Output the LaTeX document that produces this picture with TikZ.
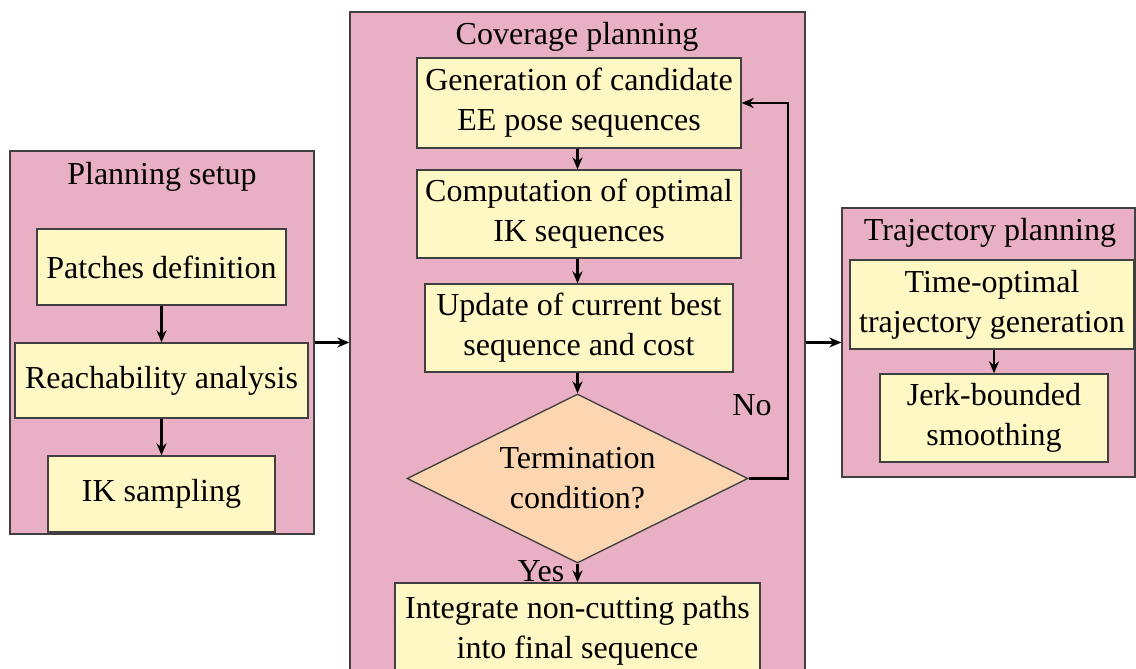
\documentclass[tikz,border=0pt]{standalone}
\usepackage{fontspec}
\setmainfont{Liberation Serif}
\usetikzlibrary{shapes.geometric,arrows.meta}
\definecolor{grpfill}{RGB}{233,175,196}
\definecolor{blkfill}{RGB}{255,248,196}
\definecolor{decfill}{RGB}{252,214,176}
\tikzset{
  grpbox/.style={draw=black!75, fill=grpfill, line width=0.4pt, inner sep=0pt},
  blkbox/.style={draw=black!75, fill=blkfill, line width=0.4pt, inner sep=0pt, align=center},
  decbox/.style={diamond, draw=black!75, fill=decfill, line width=0.4pt, inner sep=0pt, align=center, aspect=2},
  ttl/.style={inner sep=0pt, anchor=center},
  flow/.style={-{Stealth[length=3.6pt,width=3pt]}, line width=0.7pt},
}
\begin{document}
\begin{tikzpicture}[x=0.3pt,y=-0.3pt,font=\fontsize{9.6}{12}\selectfont]
\useasboundingbox (0,0) rectangle (1136,669);
\fill[white] (0,0) rectangle (1136,669);
% group boxes
\node[grpbox, minimum width=304*0.3pt, minimum height=383*0.3pt] (setup) at (162,342.5) {};
\node[grpbox, minimum width=455*0.3pt, minimum height=700*0.3pt] (cov) at (577.5,362) {};
\node[grpbox, minimum width=293*0.3pt, minimum height=269*0.3pt] (traj) at (988.5,342.5) {};
% titles
\node[ttl] (tsetup) at (162,177) {Planning setup};
\node[ttl] (tcov) at (577,37) {Coverage planning};
\node[ttl] (ttraj) at (990,233) {Trajectory planning};
% planning setup
\node[blkbox, minimum width=249*0.3pt, minimum height=76*0.3pt] (patch) at (161.5,267) {Patches definition};
\node[blkbox, minimum width=293*0.3pt, minimum height=75*0.3pt] (reach) at (161.5,380.5) {Reachability analysis};
\node[blkbox, minimum width=227*0.3pt, minimum height=76*0.3pt] (iks) at (161.5,494) {IK sampling};
% coverage planning
\node[blkbox, minimum width=324*0.3pt, minimum height=90*0.3pt] (gen) at (579,103) {Generation of candidate\\EE pose sequences};
\node[blkbox, minimum width=324*0.3pt, minimum height=88*0.3pt] (comp) at (579,214) {Computation of optimal\\IK sequences};
\node[blkbox, minimum width=308*0.3pt, minimum height=88*0.3pt] (upd) at (579,328) {Update of current best\\sequence and cost};
\node[decbox, minimum width=341*0.3pt, minimum height=169*0.3pt] (term) at (577.5,478.5) {Termination\\condition?};
\node[blkbox, minimum width=365*0.3pt, minimum height=96*0.3pt] (integ) at (577.5,631) {Integrate non-cutting paths\\into final sequence};
% trajectory planning
\node[blkbox, minimum width=284*0.3pt, minimum height=89*0.3pt] (topt) at (992,304.5) {Time-optimal\\trajectory generation};
\node[blkbox, minimum width=228*0.3pt, minimum height=88*0.3pt] (jerk) at (994,418) {Jerk-bounded\\smoothing};
% connectors
\draw[flow] (patch) -- (reach);
\draw[flow] (reach) -- (iks);
\draw[flow] (gen.south -| term) -- (comp.north -| term);
\draw[flow] (comp.south -| term) -- (upd.north -| term);
\draw[flow] (upd.south -| term) -- (term.north);
\draw[flow] (term.south) -- (integ.north -| term);
\draw[flow] (term.east) -- ++(39,0) |- (gen.east);
\draw[flow] (topt.south -| jerk) -- (jerk.north);
\draw[flow] (setup.east) -- (setup.east -| cov.west);
\draw[flow] (cov.east |- traj.west) -- (traj.west);
% labels
\node[ttl] (no) at (752,405) {No};
\node[ttl] (yes) at (541,571) {Yes};
\end{tikzpicture}
\end{document}
